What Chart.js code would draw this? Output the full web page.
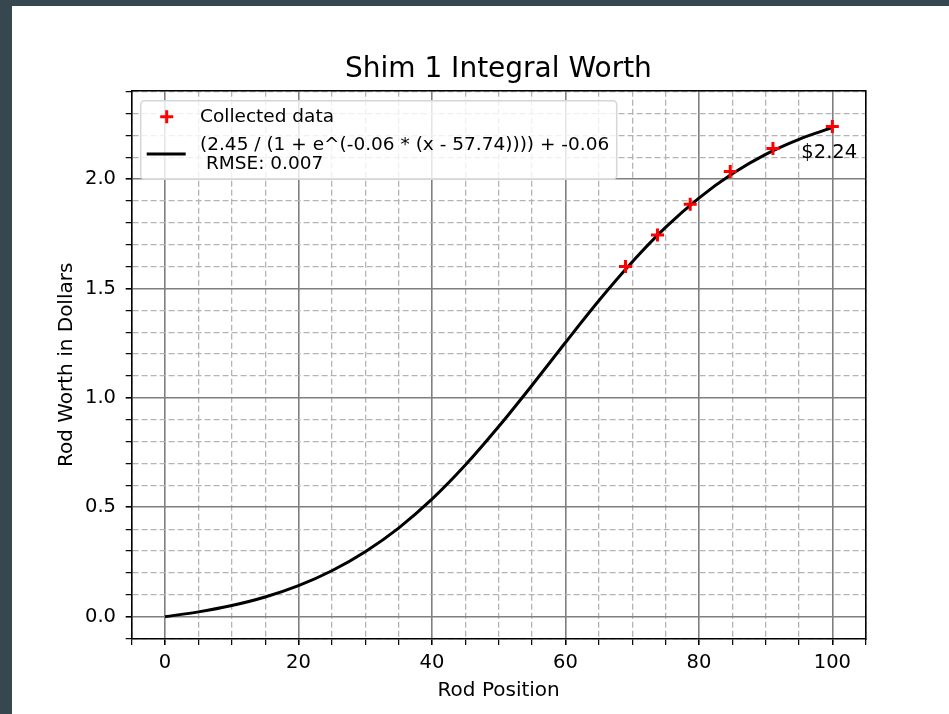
<!DOCTYPE html>
<html>
<head>
    <meta charset="UTF-8">
    <title>Shim 1 Integral Worth</title>
    <script src="https://cdn.jsdelivr.net/npm/chart.js@4.4.1/dist/chart.umd.min.js"></script>
    <style>
        html, body { margin: 0; padding: 0; background: #37474f; }
        #wrap { position: absolute; left: 12px; top: 6px; width: 937px; height: 708px; background: #fff; }
    </style>
</head>
<body>
<div id="wrap"><canvas id="myChart" width="937" height="708"></canvas></div>

<script>
    // fitted curve, every 5 units of rod position
    let curveX = [0, 5, 10, 15, 20, 25, 30, 35, 40, 45, 50, 55, 60, 65, 70, 75, 80, 85, 90, 95, 100];
    let curveY = [0.000, 0.022, 0.051, 0.090, 0.142, 0.210, 0.297, 0.405, 0.537, 0.693, 0.869,
                  1.058, 1.253, 1.444, 1.621, 1.779, 1.913, 2.024, 2.113, 2.182, 2.235];

    // collected data (red crosses)
    let dataX = [69, 73.8, 78.7, 84.7, 91.1, 100];
    let dataY = [1.600, 1.745, 1.885, 2.035, 2.140, 2.240];

    // labelled ticks
    let xMajorTicks = [0, 20, 40, 60, 80, 100];
    let yMajorTicks = [0.0, 0.5, 1.0, 1.5, 2.0];

    let dataLabel = 'Collected data';
    let fitLabel = '(2.45 / (1 + e^(-0.06 * (x - 57.74)))) + -0.06';
    let rmseLabel = ' RMSE: 0.007';

    const FONT = "'DejaVu Sans', 'Liberation Sans', sans-serif";

    function isMajorX(v) { return xMajorTicks.some(t => Math.abs(t - v) < 1e-9); }
    function isMajorY(v) { return yMajorTicks.some(t => Math.abs(t - v) < 1e-9); }

    // legend box + "$2.24" note
    const extras = {
        id: 'extras',
        afterDraw(chart) {
            const ctx = chart.ctx;
            const area = chart.chartArea;
            ctx.save();

            // legend frame
            const bx = area.left + 9, by = area.top + 10, bw = 476, bh = 78.6, r = 4;
            ctx.beginPath();
            ctx.moveTo(bx + r, by);
            ctx.arcTo(bx + bw, by, bx + bw, by + bh, r);
            ctx.arcTo(bx + bw, by + bh, bx, by + bh, r);
            ctx.arcTo(bx, by + bh, bx, by, r);
            ctx.arcTo(bx, by, bx + bw, by, r);
            ctx.closePath();
            ctx.fillStyle = 'rgba(255,255,255,0.8)';
            ctx.fill();
            ctx.strokeStyle = '#d6d6d6';
            ctx.lineWidth = 1.5;
            ctx.stroke();

            // marker sample
            const mx = bx + 26, my = by + 16, ms = 6.5;
            ctx.strokeStyle = '#ff0000';
            ctx.lineWidth = 3;
            ctx.beginPath();
            ctx.moveTo(mx - ms, my); ctx.lineTo(mx + ms, my);
            ctx.moveTo(mx, my - ms); ctx.lineTo(mx, my + ms);
            ctx.stroke();

            // line sample
            ctx.strokeStyle = '#000';
            ctx.lineWidth = 3;
            ctx.beginPath();
            ctx.moveTo(bx + 6, by + 53.3);
            ctx.lineTo(bx + 45, by + 53.3);
            ctx.stroke();

            ctx.fillStyle = '#000';
            ctx.font = '18.5px ' + FONT;
            ctx.textAlign = 'left';
            ctx.textBaseline = 'alphabetic';
            ctx.fillText(dataLabel, bx + 59.3, by + 21.6);
            ctx.fillText(fitLabel, bx + 59.3, by + 49.3);
            ctx.fillText(rmseLabel, bx + 59.3, by + 68.6);

            // value of the last point
            const xs = chart.scales.x, ys = chart.scales.y;
            const last = dataX.length - 1;
            const px = xs.getPixelForValue(dataX[last]);
            const py = ys.getPixelForValue(dataY[last]);
            ctx.font = '19.5px ' + FONT;
            ctx.fillText('$' + dataY[last].toFixed(2), px - 31, py + 31.8);

            ctx.restore();
        }
    };

    const ctx = document.getElementById('myChart').getContext('2d');
    const myChart = new Chart(ctx, {
        type: 'scatter',
        data: {
            datasets: [
                {
                    label: fitLabel,
                    data: curveX.map((x, i) => ({x: x, y: curveY[i]})),
                    showLine: true,
                    borderColor: '#000',
                    borderWidth: 3,
                    pointRadius: 0,
                    cubicInterpolationMode: 'monotone',
                    order: 2
                },
                {
                    label: dataLabel,
                    data: dataX.map((x, i) => ({x: x, y: dataY[i]})),
                    showLine: false,
                    pointStyle: 'cross',
                    pointRadius: 6.5,
                    borderColor: '#ff0000',
                    backgroundColor: '#ff0000',
                    borderWidth: 3,
                    order: 1
                }
            ]
        },
        options: {
            responsive: false,
            animation: false,
            devicePixelRatio: 1,
            layout: { padding: { left: 35.8, right: 0, top: 0, bottom: 0 } },
            plugins: {
                legend: { display: false },
                tooltip: { enabled: false },
                title: {
                    display: true,
                    text: 'Shim 1 Integral Worth',
                    color: '#000',
                    font: { family: FONT, size: 28, weight: 'normal' },
                    padding: { top: 46.6, bottom: 4.5 }
                }
            },
            scales: {
                x: {
                    type: 'linear',
                    position: 'bottom',
                    min: -5,
                    max: 105,
                    afterFit: s => { s.height = 75; },
                    ticks: {
                        stepSize: 5,
                        autoSkip: false,
                        maxRotation: 0,
                        padding: 6,
                        color: '#000',
                        font: { family: FONT, size: 19.5 },
                        callback: v => isMajorX(v) ? String(v) : ''
                    },
                    grid: {
                        color: c => isMajorX(c.tick.value) ? '#7f7f7f' : '#b4b4b4',
                        lineWidth: c => isMajorX(c.tick.value) ? 1.6 : 1.3,
                        tickColor: '#000',
                        tickLength: 6,
                        tickWidth: c => isMajorX(c.tick.value) ? 1.6 : 1.2
                    },
                    border: {
                        color: '#000',
                        width: 1.6,
                        dash: c => (c.tick && !isMajorX(c.tick.value)) ? [6, 3] : []
                    },
                    title: {
                        display: true,
                        text: 'Rod Position',
                        color: '#000',
                        font: { family: FONT, size: 20 },
                        padding: { top: 0, bottom: 11.7 }
                    }
                },
                y: {
                    type: 'linear',
                    position: 'left',
                    min: -0.102,
                    max: 2.404,
                    afterFit: s => { s.width = 83.9; },
                    ticks: {
                        stepSize: 0.1,
                        includeBounds: false,
                        autoSkip: false,
                        padding: 9.7,
                        color: '#000',
                        font: { family: FONT, size: 19.5 },
                        callback: v => isMajorY(v) ? v.toFixed(1) : ''
                    },
                    grid: {
                        color: c => isMajorY(c.tick.value) ? '#7f7f7f' : '#b4b4b4',
                        lineWidth: c => isMajorY(c.tick.value) ? 1.6 : 1.3,
                        tickColor: '#000',
                        tickLength: 6,
                        tickWidth: c => isMajorY(c.tick.value) ? 1.6 : 1.2
                    },
                    border: {
                        color: '#000',
                        width: 1.6,
                        dash: c => (c.tick && !isMajorY(c.tick.value)) ? [6, 3] : []
                    },
                    title: {
                        display: true,
                        text: 'Rod Worth in Dollars',
                        color: '#000',
                        font: { family: FONT, size: 20 },
                        padding: { top: 6.5, bottom: 0 }
                    }
                },
                xTop: {
                    type: 'linear',
                    position: 'top',
                    min: -5,
                    max: 105,
                    ticks: { display: false },
                    grid: { drawOnChartArea: false, drawTicks: false },
                    border: { color: '#000', width: 1.6 }
                },
                yRight: {
                    type: 'linear',
                    position: 'right',
                    min: -0.102,
                    max: 2.404,
                    afterFit: s => { s.width = 83.3; },
                    ticks: { display: false },
                    grid: { drawOnChartArea: false, drawTicks: false },
                    border: { color: '#000', width: 1.6 }
                }
            }
        },
        plugins: [extras]
    });
</script>
</body>
</html>
